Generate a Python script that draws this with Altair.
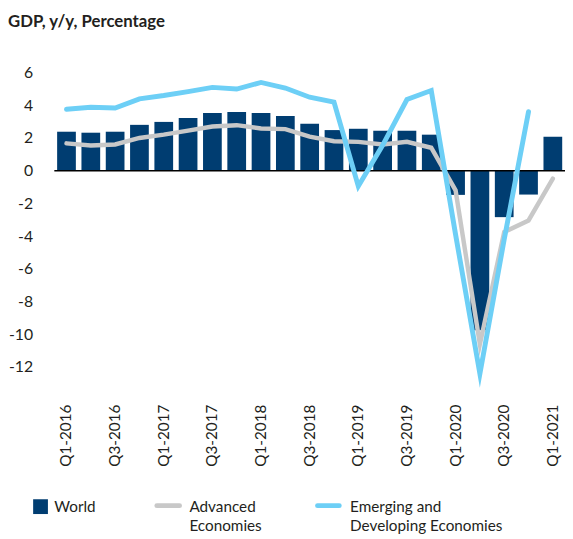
import altair as alt
import pandas as pd

quarters = [
    "Q1-2016", "Q2-2016", "Q3-2016", "Q4-2016",
    "Q1-2017", "Q2-2017", "Q3-2017", "Q4-2017",
    "Q1-2018", "Q2-2018", "Q3-2018", "Q4-2018",
    "Q1-2019", "Q2-2019", "Q3-2019", "Q4-2019",
    "Q1-2020", "Q2-2020", "Q3-2020", "Q4-2020",
    "Q1-2021",
]
world = [2.38, 2.32, 2.38, 2.8, 2.98, 3.22, 3.52, 3.58, 3.52, 3.34, 2.86,
         2.48, 2.56, 2.44, 2.44, 2.2, -1.48, -9.75, -2.84, -1.46, 2.08]
advanced = [1.67, 1.54, 1.6, 2.0, 2.2, 2.45, 2.7, 2.78, 2.58, 2.54, 2.08,
            1.8, 1.76, 1.6, 1.76, 1.4, -1.2, -10.6, -3.75, -3.04, -0.49]
emerging = [3.75, 3.87, 3.83, 4.39, 4.59, 4.83, 5.09, 4.99, 5.39, 5.05, 4.49,
            4.19, -0.95, 1.55, 4.35, 4.9, -3.9, -12.4, -4.2, 3.6]
y_ticks = [-12, -10, -8, -6, -4, -2, 0, 2, 4, 6]

NAVY = "#003d71"
GRAY = "#c8c8c8"
BLUE = "#6dcff6"
TXT = "#231f20"
FONT = "Lato"

df_bar = pd.DataFrame({"quarter": quarters, "value": world})
df_adv = pd.DataFrame({"quarter": quarters, "value": advanced})
df_em = pd.DataFrame({"quarter": quarters[:len(emerging)], "value": emerging})
df_zero = pd.DataFrame({"value": [0]})

x = alt.X(
    "quarter:N", sort=quarters,
    scale=alt.Scale(paddingInner=0.23, paddingOuter=0.115),
    axis=alt.Axis(values=quarters[::2], labelAngle=270, labelPadding=21,
                  labelFontSize=15.5, labelFont=FONT, labelColor=TXT,
                  labelOverlap=False, domain=False, ticks=False, grid=False,
                  title=None),
)
y = alt.Y(
    "value:Q",
    scale=alt.Scale(domain=[-13, 7], nice=False, zero=False),
    axis=alt.Axis(values=y_ticks, labelPadding=22, labelFontSize=16,
                  labelFont=FONT, labelColor=TXT, labelOverlap=False,
                  labelExpr="toString(datum.value)",
                  domain=False, ticks=False, grid=False, title=None),
)

bars = alt.Chart(df_bar).mark_bar(color=NAVY).encode(x=x, y=y)
zero = alt.Chart(df_zero).mark_rule(color="#000000", strokeWidth=1.5).encode(y=y)
adv = alt.Chart(df_adv).mark_line(
    color=GRAY, strokeWidth=4.5, strokeJoin="miter", strokeMiterLimit=20,
    strokeCap="round").encode(x=x, y=y)
em = alt.Chart(df_em).mark_line(
    color=BLUE, strokeWidth=5, strokeJoin="miter", strokeMiterLimit=20,
    strokeCap="round").encode(x=x, y=y)

one = pd.DataFrame({"t": [""]})


def label(text, px, py, size=15.5, weight="normal"):
    return alt.Chart(pd.DataFrame({"t": [text]})).mark_text(
        align="left", baseline="middle", fontSize=size, font=FONT,
        fontWeight=weight, color=TXT
    ).encode(text="t:N", x=alt.value(px), y=alt.value(py))


title = label("GDP, y/y, Percentage", -47, -35, size=17, weight="bold")

leg_sq = alt.Chart(one).mark_square(size=225, color=NAVY, opacity=1).encode(
    x=alt.value(-14), y=alt.value(457))
leg_gray = alt.Chart(one).mark_rule(color=GRAY, strokeWidth=5, strokeCap="round").encode(
    x=alt.value(104), x2=alt.value(127), y=alt.value(456))
leg_blue = alt.Chart(one).mark_rule(color=BLUE, strokeWidth=5, strokeCap="round").encode(
    x=alt.value(267), x2=alt.value(289), y=alt.value(456))

legend = [
    leg_sq, label("World", 0, 457),
    leg_gray, label("Advanced", 137, 457), label("Economies", 137, 477),
    leg_blue, label("Emerging and", 300, 457),
    label("Developing Economies", 300, 477),
]

chart = alt.layer(bars, zero, adv, em, title, *legend).properties(
    width=518, height=332,
    autosize=alt.AutoSizeParams(type="none"),
    padding={"left": 47, "top": 45, "right": 0, "bottom": 153},
).configure(
    font=FONT,
    view=alt.ViewConfig(stroke=None, strokeWidth=0),
    axis=alt.AxisConfig(domain=False, ticks=False, grid=False, labelOverlap=False),
)

chart.save("out.html", embed_options={"renderer": "svg", "actions": False})
